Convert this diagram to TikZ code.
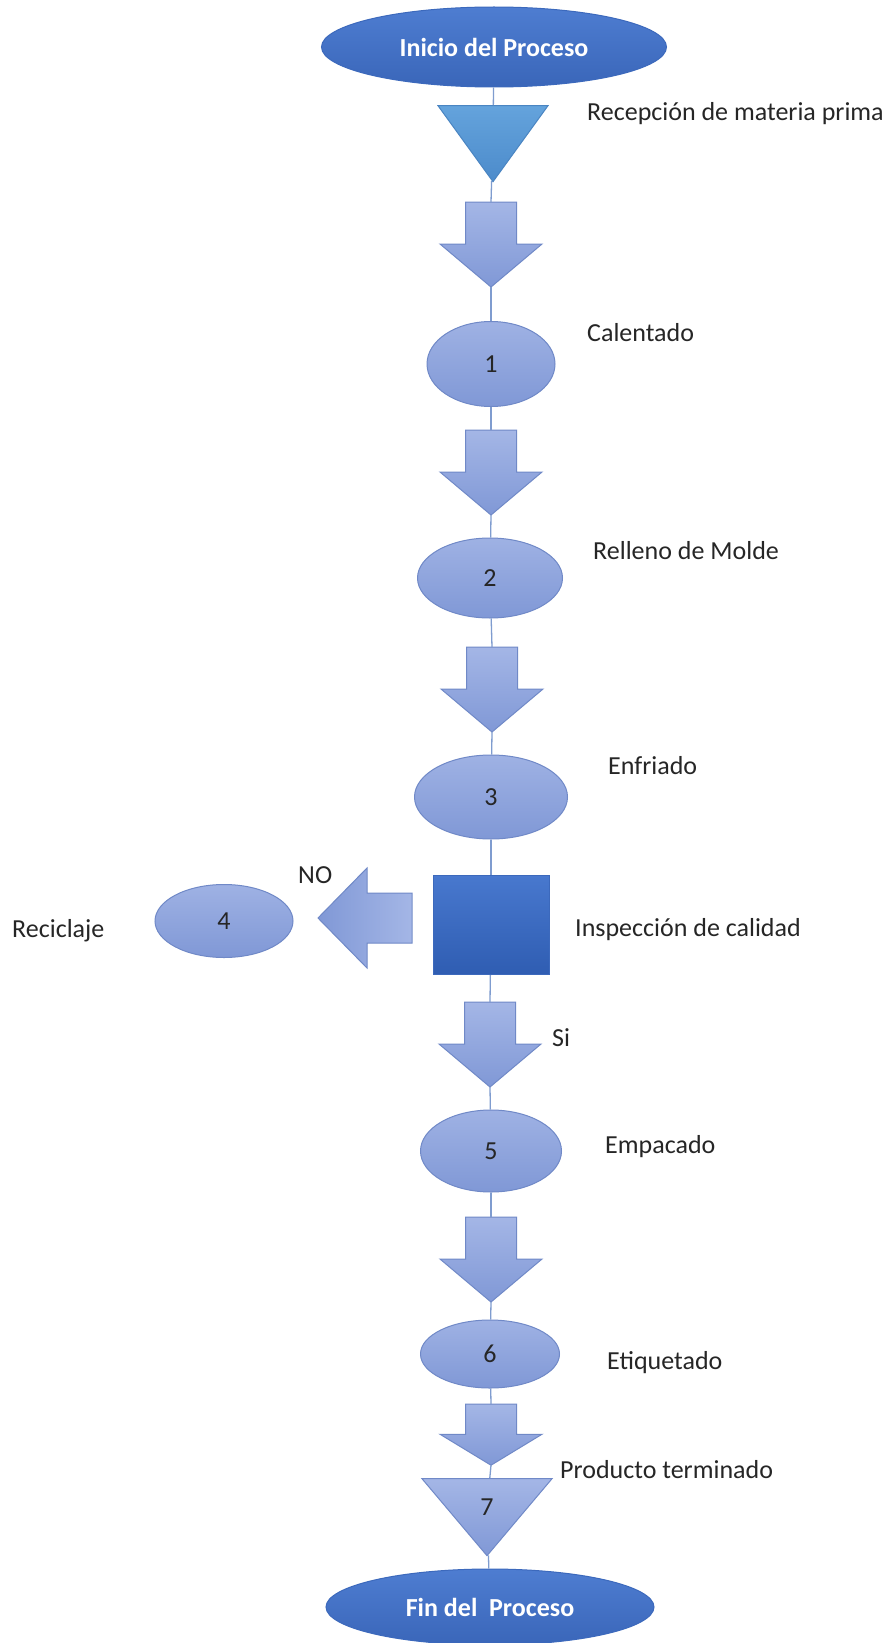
\documentclass[tikz,border=0pt]{standalone}
\usepackage{fontspec}
\setmainfont{Carlito}
\usetikzlibrary{shapes.geometric}

\definecolor{oscurotop}{HTML}{4E7DD1}
\definecolor{oscurobot}{HTML}{3A66B9}
\definecolor{oscurolinea}{HTML}{3C69BC}
\definecolor{cajatop}{HTML}{4878CE}
\definecolor{cajabot}{HTML}{2F5DB2}
\definecolor{celestetop}{HTML}{64A3DC}
\definecolor{celestebot}{HTML}{4C8BCB}
\definecolor{celestelinea}{HTML}{4A85C2}
\definecolor{lilatop}{HTML}{A4B6E6}
\definecolor{lilabot}{HTML}{8098D6}
\definecolor{lilalinea}{HTML}{7089C7}
\definecolor{enlacecol}{HTML}{7F9CCF}
\definecolor{texto}{HTML}{262626}

\tikzset{
  flechabaja/.pic={
    \draw[flecha,top color=lilatop,bottom color=lilabot] (-25.5,0) -- (25.5,0) -- (25.5,42) -- (51,42) -- (0,85) -- (-51,42) -- (-25.5,42) -- cycle;
    \coordinate (-top) at (0,0);
    \coordinate (-tip) at (0,85);
  }
}

\begin{document}
\begin{tikzpicture}[x=1pt,y=-1pt,
	font=\fontsize{26}{30}\selectfont,
	terminal/.style={ellipse,draw=oscurolinea,line width=1pt,top color=oscurotop,bottom color=oscurobot,inner sep=0,text=white,font=\fontsize{26}{30}\selectfont\bfseries},
	paso/.style={ellipse,draw=lilalinea,line width=1pt,top color=lilatop!85!lilabot,bottom color=lilabot,inner sep=0,text=texto},
	almacen/.style={isosceles triangle,isosceles triangle stretches,shape border rotate=270,inner sep=0,line width=1pt},
	flecha/.style={draw=lilalinea,line width=1pt},
	etiqueta/.style={anchor=west,inner sep=0,text=texto,text height=17pt,text depth=5pt},
	enlace/.style={draw=enlacecol,line width=1.3pt}]
	\useasboundingbox[fill=white] (0,0) rectangle (894,1643);

	\node[terminal,minimum width=345pt,minimum height=80pt] (inicio) at (494,47) {Inicio del Proceso};
	\node[almacen,draw=celestelinea,top color=celestetop,bottom color=celestebot,minimum width=110pt,minimum height=76pt,anchor=apex] (recepcion) at (493,183) {};
	\node[etiqueta] (lrecepcion) at (587,115) {Recepción de materia prima};

	\pic (flecha1) at (491,202) {flechabaja};

	\node[paso,minimum width=128pt,minimum height=85pt] (calentado) at (491,364) {1};
	\node[etiqueta] (lcalentado) at (587,335) {Calentado};

	\pic (flecha2) at (491,430) {flechabaja};

	\node[paso,minimum width=145pt,minimum height=80pt] (relleno) at (490,578) {2};
	\node[etiqueta] (lrelleno) at (593,553) {Relleno de Molde};

	\pic (flecha3) at (492,647) {flechabaja};

	\node[paso,minimum width=153pt,minimum height=84pt] (enfriado) at (491,797) {3};
	\node[etiqueta] (lenfriado) at (608,768) {Enfriado};

	\node[draw=oscurolinea,line width=1pt,top color=cajatop,bottom color=cajabot,minimum width=116pt,minimum height=99pt,inner sep=0] (inspeccion) at (491,925) {};
	\node[etiqueta] (linspeccion) at (575,930) {Inspección de calidad};

	\draw[flecha,left color=lilabot,right color=lilatop] (412,893) -- (412,943) -- (367,943) -- (367,968) -- (318,918) -- (367,868) -- (367,893) -- cycle;
	\node[etiqueta] (lno) at (298,877) {NO};
	\node[paso,minimum width=138pt,minimum height=73pt] (reciclaje) at (224,921) {4};
	\node[etiqueta] (lreciclaje) at (12,931) {Reciclaje};

	\pic (flecha4) at (490,1002) {flechabaja};
	\node[etiqueta] (lsi) at (552,1040) {Si};

	\node[paso,minimum width=141pt,minimum height=82pt] (empacado) at (491,1151) {5};
	\node[etiqueta] (lempacado) at (605,1147) {Empacado};

	\pic (flecha5) at (491,1217) {flechabaja};

	\node[paso,minimum width=139pt,minimum height=68pt] (etiquetado) at (490,1354) {6};
	\node[etiqueta] (letiquetado) at (607,1363) {Etiquetado};

	\pic[yscale=0.72] (flecha6) at (491,1404) {flechabaja};

	\node[almacen,draw=lilalinea,top color=lilatop,bottom color=lilabot,text=texto,minimum width=130pt,minimum height=77pt,anchor=apex] (producto) at (487,1557) {7};
	\node[etiqueta] (lproducto) at (560,1472) {Producto terminado};

	\node[terminal,minimum width=328pt,minimum height=76pt] (fin) at (490,1607) {Fin del~ Proceso};

	\draw[enlace] (inicio) -- (recepcion);
	\draw[enlace] (recepcion) -- (flecha1-top);
	\draw[enlace] (flecha1-tip) -- (calentado);
	\draw[enlace] (calentado) -- (flecha2-top);
	\draw[enlace] (flecha2-tip) -- (relleno);
	\draw[enlace] (relleno) -- (flecha3-top);
	\draw[enlace] (flecha3-tip) -- (enfriado);
	\draw[enlace] (enfriado) -- (inspeccion);
	\draw[enlace] (inspeccion) -- (flecha4-top);
	\draw[enlace] (flecha4-tip) -- (empacado);
	\draw[enlace] (empacado) -- (flecha5-top);
	\draw[enlace] (flecha5-tip) -- (etiquetado);
	\draw[enlace] (etiquetado) -- (flecha6-top);
	\draw[enlace] (flecha6-tip) -- (producto);
	\draw[enlace] (producto) -- (fin);
\end{tikzpicture}
\end{document}
